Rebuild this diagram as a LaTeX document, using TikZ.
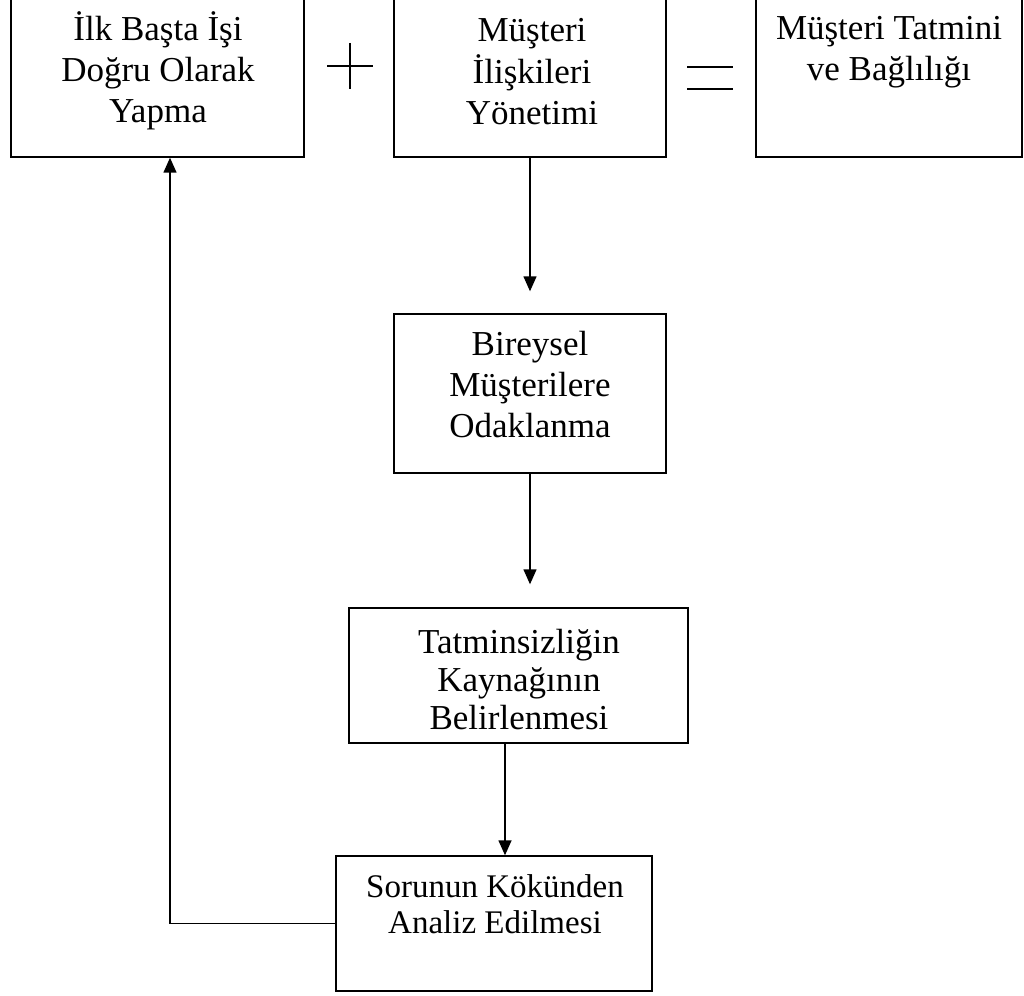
\documentclass[tikz,border=0pt]{standalone}
\usepackage{fontspec}
\setmainfont{Liberation Serif}
\usetikzlibrary{arrows.meta}
\newcommand{\mlines}[1]{\begin{tabular}[t]{@{}c@{}}#1\end{tabular}}
\begin{document}
\begin{tikzpicture}[x=1pt,y=-1pt,
  box/.style={draw,line width=1.4pt,rectangle,inner sep=0pt},
  lbl/.style={anchor=base,inner sep=0pt,
    font=\fontsize{35}{41}\selectfont},
  conn/.style={line width=1.4pt},
  arr/.style={conn,-{Triangle[width=13pt,length=15pt]}},
  op/.style={line width=1.4pt}]
\useasboundingbox[fill=white] (0,0) rectangle (1024,995);
% boxes
\node[box,minimum width=293pt,minimum height=167pt] (b1) at (157.5,73.5) {};
\node[box,minimum width=272pt,minimum height=167pt] (b2) at (530,73.5) {};
\node[box,minimum width=266pt,minimum height=167pt] (b3) at (889,73.5) {};
\node[box,minimum width=272pt,minimum height=159pt] (b4) at (530,393.5) {};
\node[box,minimum width=339pt,minimum height=135pt] (b5) at (518.5,675.5) {};
\node[box,minimum width=316pt,minimum height=135pt] (b6) at (494,923.5) {};
% texts (positioned at the baseline of their first line)
\node[lbl] (t1) at (158,41) {\mlines{İlk Başta İşi\\Doğru Olarak\\Yapma}};
\node[lbl] (t2) at (532,42) {\mlines{Müşteri\\İlişkileri\\Yönetimi}};
\node[lbl] (t3) at (889,40) {\mlines{Müşteri Tatmini\\ve Bağlılığı}};
\node[lbl] (t4) at (530,355) {\mlines{Bireysel\\Müşterilere\\Odaklanma}};
\node[lbl,font=\fontsize{35}{38}\selectfont] (t5) at (519,653) {\mlines{Tatminsizliğin\\Kaynağının\\Belirlenmesi}};
\node[lbl,font=\fontsize{33}{36}\selectfont] (t6) at (495,897) {\mlines{Sorunun Kökünden\\Analiz Edilmesi}};
% plus and equals
\coordinate (pc) at (350,66);
\draw[op] ([xshift=-23pt]pc) -- ([xshift=23pt]pc);
\draw[op] ([yshift=23pt]pc) -- ([yshift=-23pt]pc);
\coordinate (ec) at (710,78);
\draw[op] ([xshift=-23pt,yshift=11pt]ec) -- ([xshift=23pt,yshift=11pt]ec);
\draw[op] ([xshift=-23pt,yshift=-11pt]ec) -- ([xshift=23pt,yshift=-11pt]ec);
% connectors
\draw[arr] (b2.south) -- ([yshift=22pt]b4.north);
\draw[arr] (b4.south) -- ([yshift=23pt]b5.north -| b4.south);
\draw[arr] ([xshift=-13.5pt]b5.south) -- ([xshift=11pt]b6.north);
\draw[arr] (b6.west) -| ([xshift=12.5pt]b1.south);
\end{tikzpicture}
\end{document}
